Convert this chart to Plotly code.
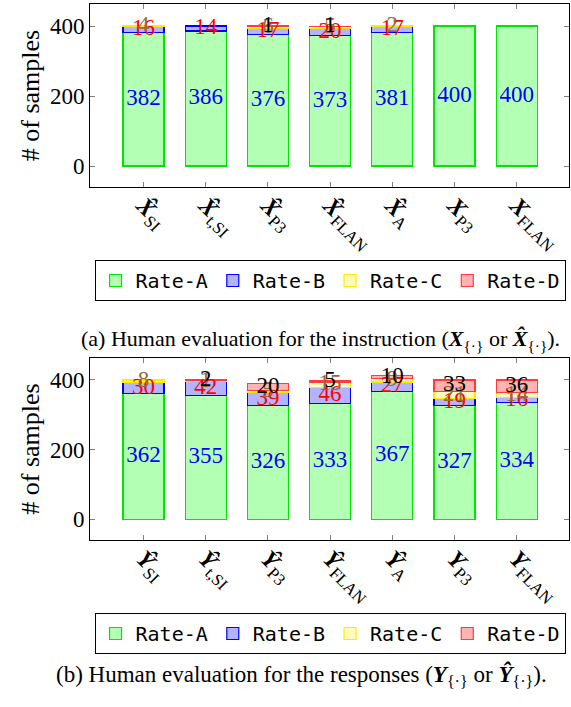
import plotly.graph_objects as go

# ---- data ----
series_names = ["Rate-A", "Rate-B", "Rate-C", "Rate-D"]
x_ticklabels = [
    "<b><i>X\u0302</i></b><sub>SI</sub>",
    "<b><i>X\u0302</i></b><sub>t,SI</sub>",
    "<b><i>X\u0302</i></b><sub>P3</sub>",
    "<b><i>X\u0302</i></b><sub>FLAN</sub>",
    "<b><i>X\u0302</i></b><sub>A</sub>",
    "<b><i>X</i></b><sub>P3</sub>",
    "<b><i>X</i></b><sub>FLAN</sub>",
]
y_ticklabels = [
    "<b><i>Y\u0302</i></b><sub>SI</sub>",
    "<b><i>Y\u0302</i></b><sub>t,SI</sub>",
    "<b><i>Y\u0302</i></b><sub>P3</sub>",
    "<b><i>Y\u0302</i></b><sub>FLAN</sub>",
    "<b><i>Y\u0302</i></b><sub>A</sub>",
    "<b><i>Y</i></b><sub>P3</sub>",
    "<b><i>Y</i></b><sub>FLAN</sub>",
]
top_a = [382, 386, 376, 373, 381, 400, 400]
top_b = [16, 14, 17, 20, 17, 0, 0]
top_c = [4, 0, 6, 5, 2, 0, 0]
top_d = [0, 0, 1, 1, 0, 0, 0]
bot_a = [362, 355, 326, 333, 367, 327, 334]
bot_b = [30, 42, 39, 46, 27, 19, 16]
bot_c = [8, 1, 5, 15, 9, 21, 14]
bot_d = [0, 2, 20, 5, 10, 33, 36]

fills = ["rgb(179,255,179)", "rgb(179,179,255)", "rgb(255,250,185)", "rgb(255,179,179)"]
lines = ["rgb(0,230,0)", "rgb(0,0,255)", "rgb(255,235,0)", "rgb(255,60,60)"]
label_colors = ["rgb(0,0,255)", "rgb(255,0,0)", "rgb(150,105,60)", "rgb(0,0,0)"]

SERIF = "'Liberation Serif', 'Times New Roman', serif"
MONO = "'DejaVu Sans Mono', monospace"

fig = go.Figure()

def add_panel(series, xa, ya, legend):
    n = len(series[0])
    xs = list(range(n))
    base = [0] * n
    for k, vals in enumerate(series):
        fig.add_trace(go.Bar(
            x=xs, y=[v if v else None for v in vals], name=series_names[k],
            marker=dict(color=fills[k], line=dict(color=lines[k], width=1.2)),
            width=0.66, xaxis=xa, yaxis=ya, legend=legend, showlegend=True,
        ))
    for k, vals in enumerate(series):
        tx, ty, tt = [], [], []
        for i, v in enumerate(vals):
            if v:
                tx.append(i)
                ty.append(base[i] + v / 2)
                tt.append(str(v))
            base[i] += v
        fig.add_trace(go.Scatter(
            x=tx, y=ty, text=tt, mode="text", xaxis=xa, yaxis=ya,
            textfont=dict(family=SERIF, size=23, color=label_colors[k]),
            showlegend=False, cliponaxis=False, hoverinfo="skip",
        ))

add_panel([top_a, top_b, top_c, top_d], "x", "y", "legend")
add_panel([bot_a, bot_b, bot_c, bot_d], "x2", "y2", "legend2")

xdom = [90 / 571, 569 / 571]
common_x = dict(range=[-0.86, 6.84], tickmode="array", tickvals=list(range(7)),
                tickangle=45, ticks="inside", ticklen=5, tickcolor="gray",
                showline=True, linecolor="black", linewidth=1, mirror="allticks",
                showgrid=False, zeroline=False, domain=xdom, ticklabelstandoff=-6,
                tickfont=dict(family=SERIF, size=24, color="black"))
common_y = dict(range=[-60, 463], tickvals=[0, 200, 400], ticks="inside", ticklen=5,
                tickcolor="gray", showline=True, linecolor="black", linewidth=1,
                mirror="allticks", showgrid=False, zeroline=False,
                tickfont=dict(family=SERIF, size=23, color="black"),
                title=dict(text="# of samples", font=dict(family=SERIF, size=26, color="black"),
                           standoff=2))

legend_common = dict(orientation="h", x=0.578, xanchor="center", yanchor="top",
                     bordercolor="black", borderwidth=1, traceorder="normal",
                     itemwidth=30, font=dict(family=MONO, size=20, color="black"),
                     bgcolor="white")

fig.update_layout(
    width=571, height=707, margin=dict(l=0, r=0, t=0, b=0),
    paper_bgcolor="white", plot_bgcolor="white", barmode="stack",
    xaxis=dict(common_x, ticktext=x_ticklabels, anchor="y"),
    yaxis=dict(common_y, domain=[1 - 187 / 707, 1 - 4 / 707], anchor="x"),
    xaxis2=dict(common_x, ticktext=y_ticklabels, anchor="y2"),
    yaxis2=dict(common_y, domain=[1 - 540 / 707, 1 - 358 / 707], anchor="x2"),
    legend=dict(legend_common, y=1 - 260 / 707),
    legend2=dict(legend_common, y=1 - 613 / 707),
    showlegend=True,
    annotations=[
        dict(text="(a) Human evaluation for the instruction (<b><i>X</i></b><sub>{·}</sub> or <b><i>X\u0302</i></b><sub>{·}</sub>).",
             x=320 / 571, y=1 - 340 / 707, xref="paper", yref="paper", showarrow=False,
             font=dict(family=SERIF, size=22, color="black")),
        dict(text="(b) Human evaluation for the responses (<b><i>Y</i></b><sub>{·}</sub> or <b><i>Y\u0302</i></b><sub>{·}</sub>).",
             x=301 / 571, y=1 - 692 / 707, xref="paper", yref="paper", showarrow=False,
             font=dict(family=SERIF, size=23, color="black")),
    ],
)

fig.write_html("out.html", config={"displayModeBar": False},
               post_script="document.body.style.margin='0';document.body.style.padding='0';document.body.style.overflow='hidden';")
